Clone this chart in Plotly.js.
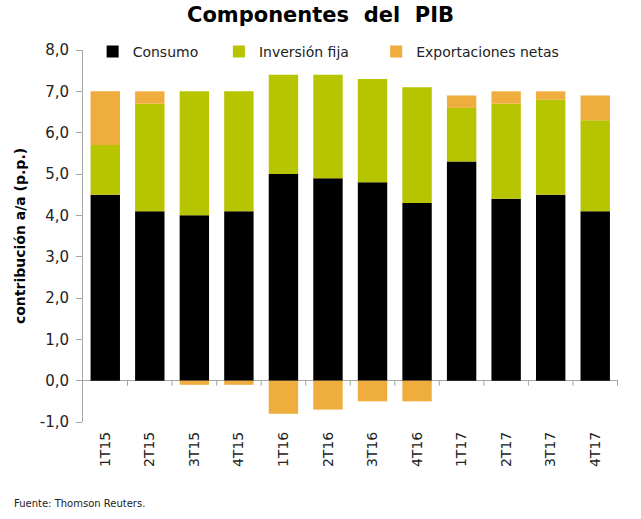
<!DOCTYPE html>
<html>
<head>
<meta charset="utf-8">
<script src="https://cdn.plot.ly/plotly-3.0.1.min.js"></script>
<style>
  html, body { margin: 0; padding: 0; background: #ffffff; }
  #chart { width: 641px; height: 519px; }
</style>
</head>
<body>
<div id="chart"></div>
<script>
// Quarterly contributions to year-on-year GDP growth (percentage points)
const quarters = ['1T15', '2T15', '3T15', '4T15', '1T16', '2T16', '3T16', '4T16', '1T17', '2T17', '3T17', '4T17'];
const consumo = [4.5, 4.1, 4.0, 4.1, 5.0, 4.9, 4.8, 4.3, 5.3, 4.4, 4.5, 4.1];
const inversionFija = [1.2, 2.6, 3.0, 2.9, 2.4, 2.5, 2.5, 2.8, 1.3, 2.3, 2.3, 2.2];
const exportacionesNetas = [1.3, 0.3, -0.1, -0.1, -0.8, -0.7, -0.5, -0.5, 0.3, 0.3, 0.2, 0.6];
const yTicks = [-1, 0, 1, 2, 3, 4, 5, 6, 7, 8];
// Spanish-style labels with decimal comma and a plain hyphen for negatives
const yTickLabels = yTicks.map(v => v.toFixed(1).replace('.', ','));

const FONT = 'DejaVu Sans, Verdana, sans-serif';
const AXIS_GREY = '#a6a6a6';

function barTrace(name, values, color, legendId) {
  return {
    type: 'bar',
    name: name,
    x: quarters,
    y: values,
    legend: legendId,
    marker: { color: color, line: { width: 0 } },
    hoverinfo: 'x+y+name'
  };
}

const traces = [
  barTrace('Consumo', consumo, '#000000', 'legend'),
  barTrace('Inversión fija', inversionFija, '#b7c400', 'legend2'),
  barTrace('Exportaciones netas', exportacionesNetas, '#efad3e', 'legend3')
];

// One legend box per series so each key sits at its own spot along the top
function legendAt(x) {
  return {
    orientation: 'h',
    x: x, xanchor: 'left',
    y: 1.038, yanchor: 'top',
    font: { family: FONT, size: 14, color: '#222222' },
    bgcolor: 'rgba(0,0,0,0)',
    itemwidth: 30
  };
}

// Small downward ticks on the zero line, between categories
const boundaryTicks = quarters.map((q, i) => ({
  type: 'line',
  xref: 'x', yref: 'y',
  ysizemode: 'pixel', yanchor: 0,
  x0: i + 0.5, x1: i + 0.5,
  y0: 0, y1: -5,
  line: { color: AXIS_GREY, width: 1 }
}));

const layout = {
  width: 641,
  height: 519,
  paper_bgcolor: '#ffffff',
  plot_bgcolor: '#ffffff',
  margin: { l: 83, r: 23, t: 50, b: 97, pad: 0 },
  barmode: 'relative',
  bargap: 0.34,
  separators: ',.',
  font: { family: FONT, color: '#222222' },
  title: {
    text: 'Componentes  del  PIB',
    font: { family: FONT, size: 21, color: '#000000', weight: 'bold' },
    x: 0.5, xanchor: 'center',
    y: 0.972, yanchor: 'middle'
  },
  showlegend: true,
  legend: legendAt(0.018),
  legend2: legendAt(0.254),
  legend3: legendAt(0.548),
  xaxis: {
    type: 'category',
    showline: false,
    showgrid: false,
    zeroline: false,
    ticks: '',
    tickangle: -90,
    tickfont: { family: FONT, size: 14, color: '#222222' },
    ticklabelstandoff: 6
  },
  yaxis: {
    range: [-1, 8],
    tickmode: 'array',
    tickvals: yTicks,
    ticktext: yTickLabels,
    showline: true,
    linecolor: AXIS_GREY,
    linewidth: 1,
    ticks: 'outside',
    ticklen: 6,
    tickcolor: AXIS_GREY,
    showgrid: false,
    zeroline: true,
    zerolinecolor: AXIS_GREY,
    zerolinewidth: 1,
    tickfont: { family: FONT, size: 15, color: '#222222' },
    ticklabelstandoff: 4,
    title: {
      text: 'contribución a/a (p.p.)',
      font: { family: FONT, size: 14, color: '#000000', weight: 'bold' },
      standoff: 10
    }
  },
  shapes: boundaryTicks,
  annotations: [{
    text: 'Fuente: Thomson Reuters.',
    xref: 'paper', yref: 'paper',
    x: -0.133, xanchor: 'left',
    y: -0.218, yanchor: 'middle',
    showarrow: false,
    font: { family: FONT, size: 10, color: '#222222' }
  }]
};

Plotly.newPlot('chart', traces, layout, { displayModeBar: false, staticPlot: true });
</script>
</body>
</html>
